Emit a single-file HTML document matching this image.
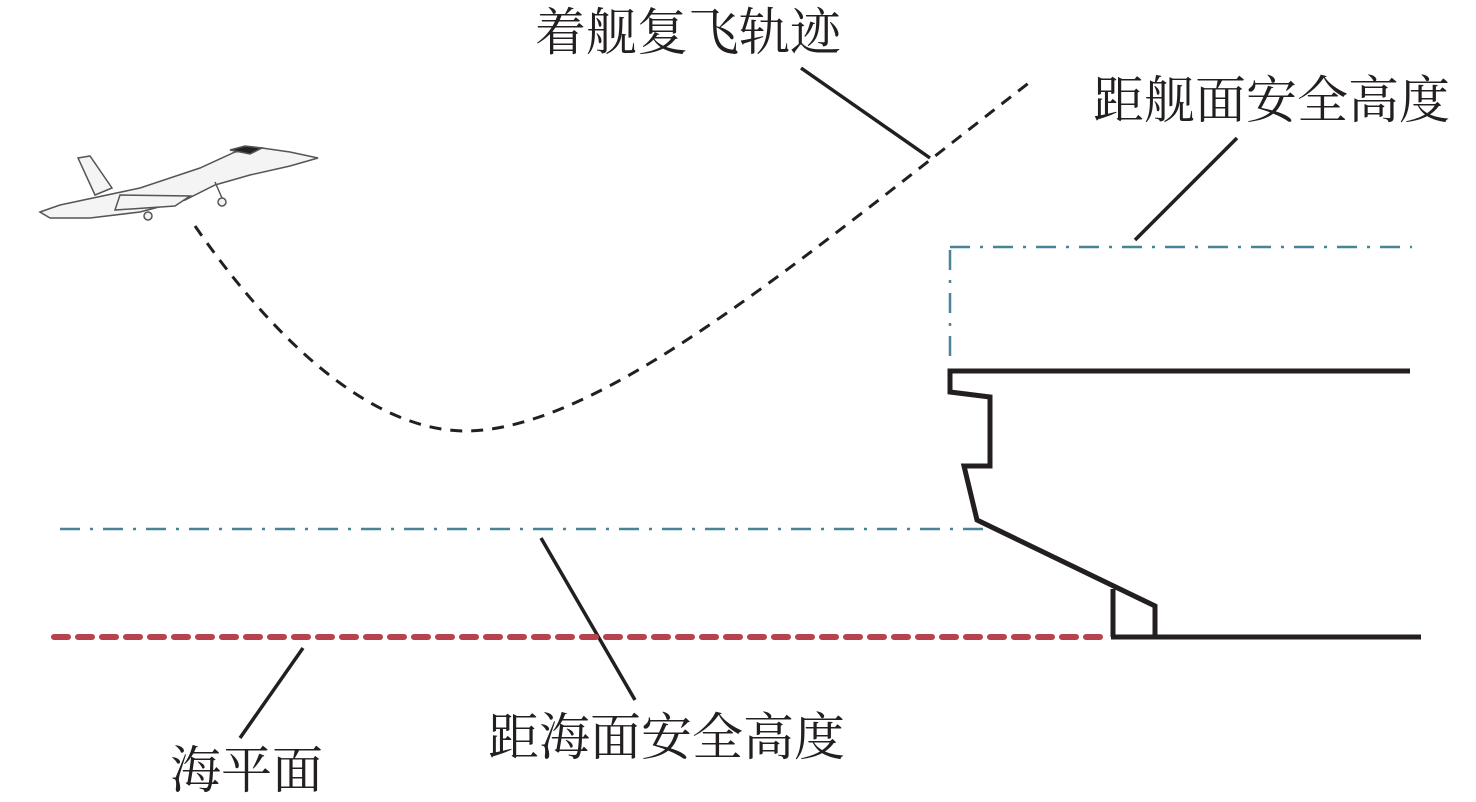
<!DOCTYPE html>
<html><head><meta charset="utf-8"><style>
html,body{margin:0;padding:0;background:#fff;}
svg{display:block;}
text{font-family:"Liberation Serif","Noto Serif CJK SC",serif;font-size:51px;fill:#231f20;}
</style></head><body>
<svg width="1476" height="802" viewBox="0 0 1476 802" xmlns="http://www.w3.org/2000/svg">
<!-- texts -->
<text x="535" y="50">着舰复飞轨迹</text>
<text x="1093" y="118">距舰面安全高度</text>
<text x="488" y="755">距海面安全高度</text>
<text x="170" y="788">海平面</text>
<!-- leaders -->
<g stroke="#231f20" stroke-width="3.5" fill="none">
<line x1="801" y1="68" x2="930" y2="158"/>
<line x1="1237" y1="138" x2="1135" y2="240"/>
<line x1="541" y1="538" x2="635" y2="700"/>
<line x1="303" y1="648" x2="240" y2="738"/>
</g>
<!-- trajectory -->
<path d="M195,226 C260,320 360,430 465,431 C600,431 800,260 1030,82" stroke="#231f20" stroke-width="3" fill="none" stroke-dasharray="12,9"/>
<!-- blue dash-dot -->
<g stroke="#4a8499" stroke-width="2.5" fill="none" stroke-dasharray="20,10,3,10">
<line x1="60" y1="529" x2="990" y2="529"/>
<line x1="950" y1="247" x2="1412" y2="247"/>
<line x1="950" y1="250" x2="950" y2="365"/>
</g>
<!-- red sea -->
<line x1="54" y1="637" x2="1110" y2="637" stroke="#b5424d" stroke-width="6" stroke-dasharray="14,10" stroke-linecap="round"/>
<!-- ship -->
<g stroke="#231f20" stroke-width="5" fill="none" stroke-linejoin="miter">
<polyline points="1410,371 950,371 950,392 990,397 990,466 964,466 977,520 1155,606 1155,637"/>
<line x1="1113" y1="589" x2="1113" y2="637"/>
<line x1="1111" y1="637" x2="1421" y2="637"/>
</g>
<!-- plane -->
<g stroke="#555" stroke-width="1.5" fill="#f4f4f4">
<path d="M40,212 L60,205 L140,188 L200,168 L235,152 L262,148 L290,152 L318,158 L290,166 L250,175 L215,185 L185,200 L140,212 L90,218 L50,218 Z"/>
<path d="M78,158 L90,156 L112,188 L95,195 Z"/>
<path d="M120,195 L190,196 L175,206 L115,210 Z"/>
<path d="M230,150 L245,146 L262,148 L250,154 Z" fill="#222"/>
<circle cx="148" cy="216" r="4"/>
<circle cx="222" cy="202" r="4"/>
<line x1="215" y1="182" x2="222" y2="198"/>
</g>
</svg>
</body></html>
